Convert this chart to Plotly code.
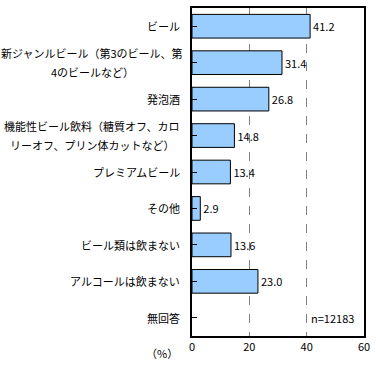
import plotly.graph_objects as go

categories = [
    "ビール",
    "新ジャンルビール（第3のビール、第<br>4のビールなど）",
    "発泡酒",
    "機能性ビール飲料（糖質オフ、カロ<br>リーオフ、プリン体カットなど）",
    "プレミアムビール",
    "その他",
    "ビール類は飲まない",
    "アルコールは飲まない",
    "無回答",
]
values = [41.2, 31.4, 26.8, 14.8, 13.4, 2.9, 13.6, 23.0, None]
value_labels = ["41.2", "31.4", "26.8", "14.8", "13.4", "2.9", "13.6", "23.0", ""]
x_ticks = [0, 20, 40, 60]
n_note = "n=12183"
unit_label = "（%）"

FONT = "Noto Sans CJK JP"

fig = go.Figure()
fig.add_trace(go.Bar(
    x=values,
    y=list(range(len(categories))),
    orientation="h",
    marker=dict(color="#99CCFF", line=dict(color="black", width=1)),
    text=value_labels,
    textposition="outside",
    textfont=dict(family=FONT, size=11, color="black"),
    cliponaxis=False,
    hoverinfo="skip",
))

annotations = []
for i, cat in enumerate(categories):
    lines = cat.split("<br>")
    n = len(lines)
    for j, line in enumerate(lines):
        shift = (n - 1) / 2 * 19 - j * 19
        annotations.append(dict(
            x=0, xref="paper", xanchor="center" if n > 1 else "right",
            xshift=-100 if n > 1 else -10,
            y=i, yref="y", yanchor="middle", yshift=shift,
            text=line, showarrow=False,
            font=dict(family=FONT, size=11, color="black"),
        ))

annotations.append(dict(
    x=40, xref="x", xanchor="left", xshift=2,
    y=8, yref="y", yanchor="middle",
    text=n_note, showarrow=False,
    font=dict(family=FONT, size=11, color="black"),
))
annotations.append(dict(
    x=0, xref="paper", xanchor="right", xshift=-12,
    y=0, yref="paper", yanchor="top", yshift=-7,
    text=unit_label, showarrow=False,
    font=dict(family=FONT, size=11, color="black"),
))

fig.update_layout(
    width=376, height=365,
    margin=dict(l=192, r=12, t=6, b=29),
    paper_bgcolor="white", plot_bgcolor="white",
    showlegend=False,
    bargap=0.35,
    annotations=annotations,
    font=dict(family=FONT, size=11, color="black"),
    xaxis=dict(
        range=[0, 60], tickvals=x_ticks, ticktext=[str(t) for t in x_ticks],
        showgrid=True, gridcolor="#808080", griddash="dash", gridwidth=1,
        showline=True, linecolor="black", linewidth=1.5, mirror=True,
        zeroline=False, ticks="", tickfont=dict(family=FONT, size=11),
    ),
    yaxis=dict(
        range=[8.5, -0.5], tickvals=list(range(len(categories))),
        showticklabels=False, tickson="boundaries", ticks="inside", ticklen=5,
        tickcolor="black", showgrid=False,
        showline=True, linecolor="black", linewidth=1.5, mirror=True,
        zeroline=False,
    ),
)

fig.write_html("out.html", config={"displayModeBar": False},
               post_script="document.body.style.margin='0';")
